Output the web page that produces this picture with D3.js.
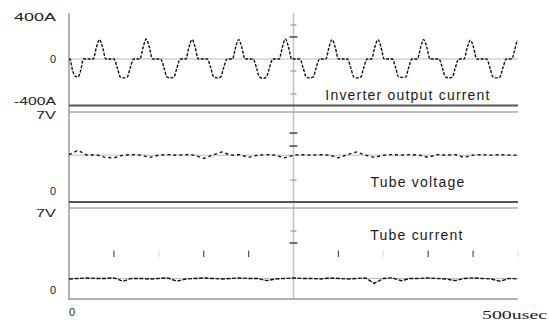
<html>
<head>
<script src='https://d3js.org/d3.v7.min.js'></script>
<style>
body { margin: 0; background: #fff; }
.lbl { font-family: "Liberation Sans", Arial, sans-serif; font-size: 11px; fill: #222; }
.title { font-family: "Liberation Sans", Arial, sans-serif; font-size: 14px; fill: #1a1a1a; letter-spacing: 1.2px; }
.unit { font-family: "Liberation Serif", serif; font-size: 12px; fill: #222; }
.sig { fill: none; stroke: #111; stroke-width: 1.4px; }
.ref { fill: none; stroke: #bbb; stroke-width: 1px; }
</style>
</head>
<body>
<svg id="chart" width=549 height=324></svg>
<script>
// inverter output current, [usec, A]
var current = [
  [0,0],[1,0],[4,-110],[7,-165],[10,-170],[13,-110],[16,0],
  [27,0],[30.5,110],[34,185],[37.5,110],[41,0],
  [50,0],[54,-90],[57,-170],[61,-180],[65,-170],[68,-90],[72,0],
  [79,0],[82.5,110],[86,190],[89.5,110],[93,0],
  [102,0],[106,-90],[109,-170],[113,-180],[117,-170],[120,-90],[124,0],
  [130,0],[133.5,110],[137,185],[140.5,110],[144,0],
  [154,0],[158,-90],[161,-170],[165,-180],[169,-170],[172,-90],[176,0],
  [182,0],[185.5,110],[189,185],[192.5,110],[196,0],
  [205,0],[209,-90],[212,-170],[216,-185],[220,-170],[223,-90],[227,0],
  [234,0],[237.5,110],[241,190],[244.5,110],[248,0],
  [257,0],[261,-90],[264,-170],[268,-180],[272,-170],[275,-90],[279,0],
  [286,0],[289.5,110],[293,185],[296.5,110],[300,0],
  [310,0],[314,-90],[317,-170],[321,-180],[325,-170],[328,-90],[332,0],
  [337,0],[340.5,110],[344,185],[347.5,110],[351,0],
  [360,0],[364,-90],[367,-170],[371,-175],[375,-170],[378,-90],[382,0],
  [388,0],[391.5,110],[395,185],[398.5,110],[402,0],
  [412,0],[416,-90],[419,-170],[423,-180],[427,-170],[430,-90],[434,0],
  [440,0],[443.5,110],[447,180],[450.5,110],[454,0],
  [465,0],[469,-90],[472,-170],[476,-180],[480,-170],[483,-90],[487,0],
  [493,0],[496.5,90],[499,170],[500,175]
];
// sample times for the two voltage traces (usec)
var times = [0,10,20,30,40,50,60,70,80,90,100,110,120,130,140,150,160,170,180,190,200,
  210,220,230,240,250,260,270,280,290,300,310,320,330,340,350,360,370,380,390,400,
  410,420,430,440,450,460,470,480,490,500];
var tubeVoltage = [3.35,3.75,3.3,3.35,3.1,3.05,3.3,3.35,3.3,3.1,3.3,3.35,3.3,3.35,3.3,3.0,
  3.3,3.6,3.3,3.35,3.1,3.3,3.35,3.3,3.05,3.3,3.35,3.3,3.35,3.3,3.05,3.35,3.6,3.3,3.1,
  3.3,3.35,3.3,3.35,3.3,3.1,3.35,3.3,3.35,3.1,3.3,3.35,3.3,3.35,3.3,3.3];
var tubeCurrent = [1.0,1.05,1.1,1.05,1.05,1.1,0.8,1.05,1.05,1.0,1.05,1.1,0.8,1.0,1.05,1.1,
  1.05,1.0,1.05,1.1,1.05,1.05,0.85,1.0,1.05,1.1,1.05,1.05,1.0,1.1,1.05,1.0,1.05,1.1,0.6,
  1.05,1.1,0.85,1.05,1.05,1.1,1.05,1.0,0.85,1.05,1.1,1.05,1.0,0.8,1.05,1.0];
// graticule marks
var currentTicks = [324, 210, -114, -333];
var voltageTicks = [5.34, 4.14, 1.0];
var tubeCurTicks = [5.36, 4.27];
var divTimes = [50,100,150,200,300,350,400,450,500];
var divFaint = [false,true,false,false,false,true,false,false,true];
var voltageLevel = 3.3, tubeCurLevel = 1.05;

var chart = d3.select('#chart');
var x = d3.scaleLinear().domain([0, 500]).range([69, 518]);
var y1 = d3.scaleLinear().domain([-400, 400]).range([101, 17]);
var y2 = d3.scaleLinear().domain([0, 7]).range([191, 115]);
var y3 = d3.scaleLinear().domain([0, 7]).range([290, 213]);

// frame lines
function hline(yy, color, w) {
  chart.append('line').attr('x1', x(0)).attr('x2', x(500)).attr('y1', yy).attr('y2', yy)
    .attr('stroke', color).attr('stroke-width', w);
}
chart.append('line').attr('x1', x(0)).attr('x2', x(0)).attr('y1', 13).attr('y2', 300)
  .attr('stroke', '#999').attr('stroke-width', 1.5);
chart.append('line').attr('x1', x(250)).attr('x2', x(250)).attr('y1', 13).attr('y2', 300)
  .attr('stroke', '#c4c4c4').attr('stroke-width', 1.5);
hline(105.5, '#555', 2);
hline(112, '#aaa', 1.5);
hline(202, '#555', 2);
hline(208, '#aaa', 1.5);
hline(299, '#999', 1.5);

// reference levels
chart.append('line').attr('class', 'ref').attr('x1', x(0)).attr('x2', x(500))
  .attr('y1', y1(0)).attr('y2', y1(0));
chart.append('line').attr('class', 'ref').attr('x1', x(0)).attr('x2', x(500))
  .attr('y1', y2(voltageLevel)).attr('y2', y2(voltageLevel)).attr('stroke', '#ddd');
chart.append('line').attr('class', 'ref').attr('x1', x(0)).attr('x2', x(500))
  .attr('y1', y3(tubeCurLevel)).attr('y2', y3(tubeCurLevel)).attr('stroke', '#ddd');

// center graticule ticks
function cticks(vals, sc) {
  chart.selectAll(null).data(vals).enter().append('line')
    .attr('x1', function(d, i){ return x(250) - (i == 1 || (vals.length == 3 && i == 0) ? 4 : 3); })
    .attr('x2', function(d, i){ return x(250) + (i == 1 || (vals.length == 3 && i == 0) ? 4 : 3); })
    .attr('y1', function(d){ return sc(d); }).attr('y2', function(d){ return sc(d); })
    .attr('stroke', function(d, i){ return (i == 1 || (vals.length == 3 && i == 0)) ? '#444' : '#aaa'; })
    .attr('stroke-width', 1.5);
}
cticks(currentTicks, y1);
cticks(voltageTicks, y2);
cticks(tubeCurTicks, y3);

// division marks in the tube current panel
chart.selectAll(null).data(divTimes).enter().append('line')
  .attr('x1', function(d){ return x(d); }).attr('x2', function(d){ return x(d); })
  .attr('y1', y3(3.6)).attr('y2', y3(3.0))
  .attr('stroke', function(d, i){ return divFaint[i] ? '#ddd' : '#555'; })
  .attr('stroke-width', 1.2);

// traces
var curLine = d3.line().curve(d3.curveMonotoneX)
  .x(function(d){ return x(d[0]); })
  .y(function(d){ return y1(d[1]); });
chart.append('path').datum(current).attr('class', 'sig')
  .attr('stroke-dasharray', '3,1.5').attr('d', curLine);

var vLine = d3.line()
  .x(function(d, i){ return x(times[i]); })
  .y(function(d){ return y2(d); });
chart.append('path').datum(tubeVoltage).attr('class', 'sig')
  .attr('stroke-dasharray', '3,3').attr('d', vLine);

var iLine = d3.line()
  .x(function(d, i){ return x(times[i]); })
  .y(function(d){ return y3(d); });
chart.append('path').datum(tubeCurrent).attr('class', 'sig')
  .attr('stroke-dasharray', '4,1.5').attr('d', iLine);

// y labels
var yLabels = [
  {t: '400A', y: y1(400), w: 42}, {t: '0', y: y1(0), w: 0}, {t: '-400A', y: y1(-400), w: 42},
  {t: '7V', y: y2(7), w: 20}, {t: '0', y: y2(0), w: 0},
  {t: '7V', y: y3(7), w: 20}, {t: '0', y: y3(0), w: 0}
];
yLabels.forEach(function(l){
  var t = chart.append('text').attr('class', 'lbl').attr('x', 56).attr('y', l.y)
    .attr('text-anchor', 'end').attr('dominant-baseline', 'central').text(l.t);
  if (l.w) t.attr('textLength', l.w).attr('lengthAdjust', 'spacingAndGlyphs');
});
chart.append('text').attr('class', 'lbl').attr('x', x(0) + 3).attr('y', 312)
  .attr('text-anchor', 'middle').attr('dominant-baseline', 'central').text('0');
chart.append('text').attr('class', 'unit').attr('x', 482).attr('y', 315)
  .attr('dominant-baseline', 'central').attr('textLength', 65)
  .attr('lengthAdjust', 'spacingAndGlyphs').text('500usec');

// panel titles
chart.append('text').attr('class', 'title').attr('x', 408).attr('y', 95)
  .attr('text-anchor', 'middle').attr('dominant-baseline', 'central').text('Inverter output current');
chart.append('text').attr('class', 'title').attr('x', 418).attr('y', 182)
  .attr('text-anchor', 'middle').attr('dominant-baseline', 'central').text('Tube voltage');
chart.append('text').attr('class', 'title').attr('x', 417).attr('y', 235)
  .attr('text-anchor', 'middle').attr('dominant-baseline', 'central').text('Tube current');
</script>
</body>
</html>
